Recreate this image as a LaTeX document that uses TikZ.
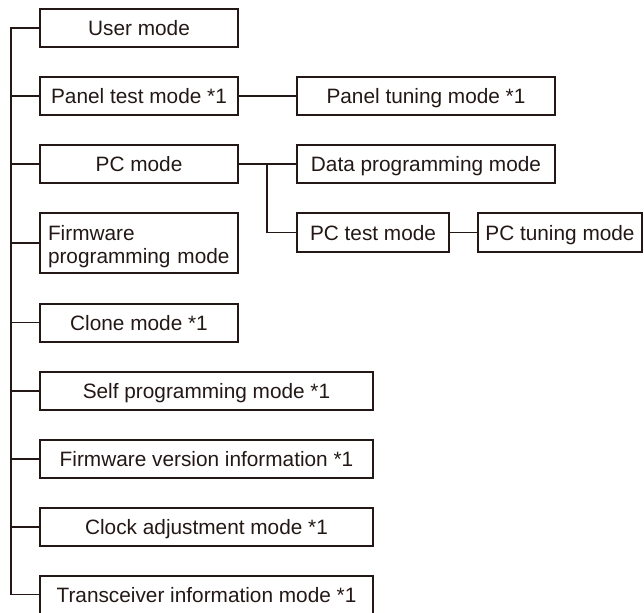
\documentclass[tikz,border=0pt]{standalone}
\usepackage{fontspec}
\setmainfont{Liberation Sans}
\definecolor{ink}{RGB}{35,24,21}
\begin{document}
\begin{tikzpicture}[x=1pt,y=-1pt,
  box/.style={draw=ink,line width=2pt,rectangle,inner sep=0pt,text=ink,
    font=\fontsize{20.8}{24}\selectfont,text height=15pt,text depth=0pt},
  narrowbox/.style={box,minimum width=198pt,minimum height=38pt},
  widebox/.style={box,minimum width=333pt,minimum height=38pt},
  link/.style={draw=ink,line width=1.4pt}]
\useasboundingbox (0,0) rectangle (644,612);
% left column
\node[narrowbox] (user) at (139,28) {User mode};
\node[narrowbox] (ptest) at (139,96) {Panel test mode *1};
\node[narrowbox] (pc) at (139,164) {PC mode};
\node[narrowbox,minimum height=60pt,align=left,text width=182pt,
  text height=15pt,text depth=21pt] (fw) at (139,243) {Firmware\\programming mode};
\node[narrowbox] (clone) at (139,322.5) {Clone mode *1};
\node[widebox] (self) at (206.5,391) {Self programming mode *1};
\node[widebox] (fwver) at (206.5,459) {Firmware version information *1};
\node[widebox] (clock) at (206.5,527) {Clock adjustment mode *1};
\node[widebox] (trx) at (206.5,594.5) {Transceiver information mode *1};
% right side
\node[box,minimum width=258pt,minimum height=38pt] (ptune) at (426,96) {Panel tuning mode *1};
\node[box,minimum width=258pt,minimum height=38pt] (data) at (426,164) {Data programming mode};
\node[box,minimum width=152pt,minimum height=39pt] (pctest) at (373,232.5) {PC test mode};
\node[box,minimum width=164pt,minimum height=39pt] (pctune) at (560,232.5) {PC tuning mode};
% trunk
\coordinate (t0) at (11,28);
\coordinate (t9) at (11,594.5);
\draw[link] (user.west) -- (t0) -- (t9) -- (trx.west);
\foreach \n in {ptest,pc,fw,clone,self,fwver,clock}{
  \draw[link] (\n.west) -- (\n.west -| t0);
}
\draw[link] (ptest.east) -- (ptune.west);
\draw[link] (pc.east) -- (data.west);
\coordinate (br) at (267,164);
\draw[link] (br) -- (br |- pctest.west) -- (pctest.west);
\draw[link] (pctest.east) -- (pctune.west);
\end{tikzpicture}
\end{document}
